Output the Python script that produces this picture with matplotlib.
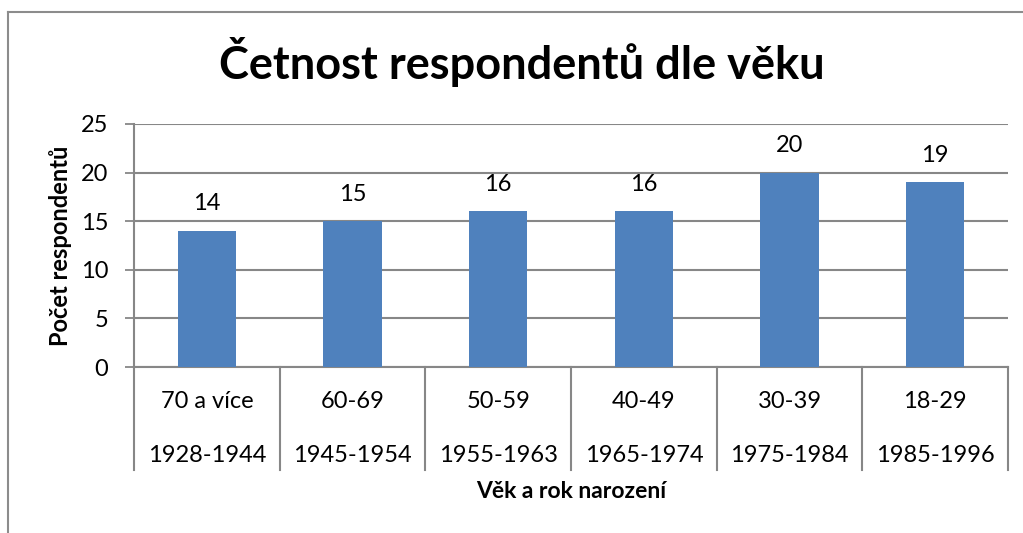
import matplotlib
matplotlib.use('Agg')
import matplotlib.pyplot as plt
from matplotlib.lines import Line2D
import matplotlib.transforms as mtransforms

plt.rcParams['font.family'] = ['Lato', 'DejaVu Sans']

# data
age_groups = ['70 a více', '60-69', '50-59', '40-49', '30-39', '18-29']
birth_years = ['1928-1944', '1945-1954', '1955-1963', '1965-1974', '1975-1984', '1985-1996']
counts = [14, 15, 16, 16, 20, 19]

W, H = 1023, 533
fig = plt.figure(figsize=(W / 100, H / 100), dpi=100)

# plot area in pixel coords -> figure fractions
left, right, top, bottom = 134, 1008, 124, 367
ax = fig.add_axes([left / W, 1 - bottom / H, (right - left) / W, (bottom - top) / H])

grid_c = '#878787'
fs = 17
x = range(len(counts))
ax.bar(x, counts, width=0.4, color='#4F81BD', zorder=3)
ax.set_xlim(-0.5, len(counts) - 0.5)
ax.set_ylim(0, 25)
ax.set_yticks(range(0, 26, 5))
ax.yaxis.grid(True, color=grid_c, lw=1.5, zorder=0)
ax.tick_params(axis='y', length=6.5, width=1.3, color=grid_c, labelsize=fs, pad=12)
ax.set_xticks([])
for s in ['top', 'right']:
    ax.spines[s].set_visible(False)
ax.spines['left'].set_color(grid_c)
ax.spines['left'].set_linewidth(1.5)
ax.spines['bottom'].set_color(grid_c)
ax.spines['bottom'].set_linewidth(1.5)

# value labels
for xi, v in zip(x, counts):
    ax.annotate(str(v), (xi, v), xytext=(0, 19.5), textcoords='offset points',
                ha='center', va='center', fontsize=fs)

# two level category labels with separators
trans = mtransforms.blended_transform_factory(ax.transData, ax.transAxes)
sep_bottom = (bottom - 470) / (bottom - top)
for i in range(len(counts) + 1):
    ax.plot([i - 0.5, i - 0.5], [0, sep_bottom], transform=trans, color=grid_c,
            lw=1.5, clip_on=False)
row1 = (bottom - 402) / (bottom - top)
row2 = (bottom - 455) / (bottom - top)
for xi, a, b in zip(x, age_groups, birth_years):
    ax.text(xi, row1, a, transform=trans, ha='center', va='center', fontsize=fs)
    ax.text(xi, row2, b, transform=trans, ha='center', va='center', fontsize=fs)

ax.text(0.5, (bottom - 492) / (bottom - top), 'Věk a rok narození', transform=ax.transAxes,
        ha='center', va='center', fontsize=16.5, fontweight='bold')
ax.text((60 - left) / (right - left), 0.5, 'Počet respondentů', transform=ax.transAxes,
        ha='center', va='center', rotation=90, fontsize=17, fontweight='bold')

fig.text(522 / W, 1 - 62 / H, 'Četnost respondentů dle věku', ha='center', va='center',
         fontsize=32.5, fontweight='bold')

# chart frame (only top and left edges are inside the image)
fig.add_artist(Line2D([8 / W, 1], [1 - 11.5 / H, 1 - 11.5 / H], color='#8c8c8c', lw=1.5))
fig.add_artist(Line2D([8 / W, 8 / W], [0, 1 - 11.5 / H], color='#8c8c8c', lw=1.5))

fig.savefig('out.png', dpi=100)
